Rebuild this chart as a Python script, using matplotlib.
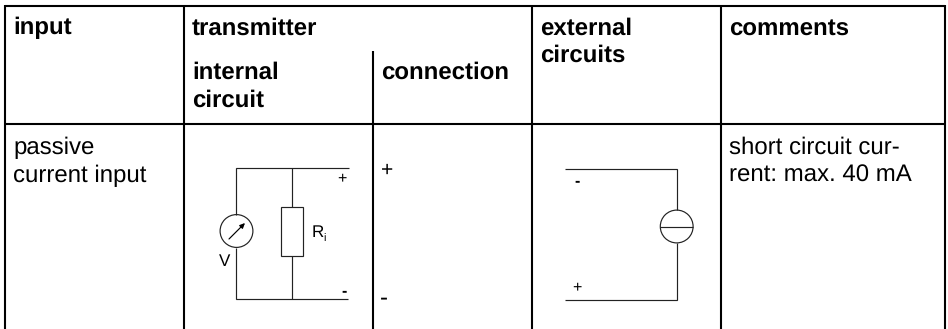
import matplotlib
matplotlib.use("Agg")
import matplotlib.pyplot as plt
from matplotlib.patches import Circle, Rectangle

W, H = 948, 329
plt.rcParams['font.family'] = ['Liberation Sans', 'DejaVu Sans']
plt.rcParams['text.hinting'] = 'no_hinting'
plt.rcParams['text.hinting_factor'] = 1

# Text content
header_cols = ["input", "transmitter", "external\ncircuits", "comments"]
header_subs = ["internal\ncircuit", "connection"]
row_input = "passive\ncurrent input"
row_comment = "short circuit cur-\nrent: max. 40 mA"
conn_signs = ["+", "-"]

fig = plt.figure(figsize=(W / 100, H / 100), dpi=100)
ax = fig.add_axes([0, 0, 1, 1])
ax.set_xlim(0, W)
ax.set_ylim(H, 0)
ax.axis("off")

FS = 17
BLACK = "#000000"
GREY = "#222222"

def grid(xs, ys):
    ax.plot(xs, ys, color=BLACK, lw=1.5, solid_capstyle="butt", solid_joinstyle="miter")

def wire(xs, ys):
    ax.plot(xs, ys, color=GREY, lw=0.85, solid_capstyle="butt", solid_joinstyle="miter")

def block(x, y, label, weight="normal", step=27.7):
    for i, line in enumerate(label.split("\n")):
        ax.text(x, y + i * step, line, fontsize=FS, fontweight=weight,
                va="baseline", ha="left", color=BLACK)

# Table rules
grid([5, 945], [6, 6])
grid([5, 945], [124, 124])
for x in [5.5, 184, 532, 721, 945]:
    grid([x, x], [5.3, 329])
grid([373, 373], [51, 329])

# Header text
for x, label in zip([13, 192, 540, 729], header_cols):
    block(x, 34.5, label, "bold")
block(192, 79, header_subs[0], "bold")
block(381, 79, header_subs[1], "bold")

# Body text
block(13, 154, row_input)
block(729, 154, row_comment)
ax.text(386.7, 175.5, conn_signs[0], fontsize=15, va="baseline", ha="center", color=BLACK)
ax.text(384.3, 304, conn_signs[1], fontsize=FS, va="baseline", ha="center", color=BLACK)

# Internal circuit
wire([349, 236.5, 236.5], [167.7, 167.7, 214.5])
wire([236.5, 236.5, 348], [247.5, 298.7, 298.7])
wire([292, 292], [167.7, 207])
wire([292, 292], [255.5, 298.7])
ax.add_patch(Rectangle((281, 207), 22.5, 48.5, fill=False, ec=GREY, lw=0.85))
ax.add_patch(Circle((236.5, 231), 16.4, fill=False, ec=GREY, lw=0.85))
ax.annotate("", xy=(245, 223), xytext=(229, 239),
            arrowprops=dict(arrowstyle="-|>,head_length=0.3,head_width=0.14", color=BLACK, lw=0.85,
                            shrinkA=0, shrinkB=0))
ax.text(224.5, 265.7, "V", fontsize=12, va="baseline", ha="center", color=BLACK, zorder=5)
ax.text(311.5, 237, "R", fontsize=12, va="baseline", ha="left", color=BLACK)
ax.text(323.5, 241, "i", fontsize=8, va="baseline", ha="left", color=BLACK)
ax.text(342.3, 182, "+", fontsize=11.5, va="baseline", ha="center", color=BLACK)
ax.text(343.7, 295, "-", fontsize=11.5, fontweight="bold", va="baseline", ha="center", color=BLACK)

# External circuit
wire([565, 676.7, 676.7], [168.6, 168.6, 210])
wire([676.7, 676.7, 565], [243, 299.7, 299.7])
ax.add_patch(Circle((676.7, 226.5), 16.4, fill=False, ec=GREY, lw=0.85))
wire([660.3, 693.1], [226.5, 226.5])
ax.text(576.7, 185, "-", fontsize=11.5, fontweight="bold", va="baseline", ha="center", color=BLACK)
ax.text(577, 291, "+", fontsize=11.5, va="baseline", ha="center", color=BLACK)

fig.savefig("out.png", dpi=100, facecolor="white")
